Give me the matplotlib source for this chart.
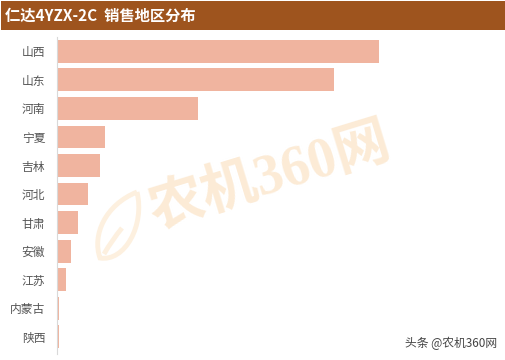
import matplotlib.pyplot as plt
from matplotlib.patches import PathPatch, Rectangle
from matplotlib.path import Path

plt.rcParams["font.family"] = ["Noto Sans CJK SC", "DejaVu Sans"]

# --------------------------------------------------------------
# Data
# --------------------------------------------------------------
provinces = ["山西", "山东", "河南", "宁夏", "吉林", "河北", "甘肃", "安徽", "江苏", "内蒙古", "陕西"]
sales = [322, 277, 141, 48, 43, 31, 21, 14, 9, 2, 2]

W, H = 505, 360
fig = plt.figure(figsize=(W / 100, H / 100), dpi=100, facecolor="white")

# --------------------------------------------------------------
# Header band and watermark
# --------------------------------------------------------------
fig.add_artist(Rectangle((1 / W, 1 - 30 / H), 504 / W, 29 / H, transform=fig.transFigure,
                         facecolor="#9E541E", edgecolor="none"))
fig.text(5 / W, 1 - 15.5 / H, "仁达4YZX-2C  销售地区分布", color="white", fontsize=11,
         fontweight="bold", va="center", ha="left")

bg = fig.add_axes([0, 0, 1, 1])
bg.set_xlim(0, W)
bg.set_ylim(H, 0)
bg.axis("off")
leaf = Path([(137, 192), (105, 205), (92, 235), (100, 258), (125, 262), (145, 225), (137, 192),
             (104, 254), (112, 240), (122, 228)],
            [Path.MOVETO, Path.CURVE4, Path.CURVE4, Path.CURVE4, Path.CURVE4, Path.CURVE4, Path.CURVE4,
             Path.MOVETO, Path.CURVE3, Path.CURVE3])
bg.add_patch(PathPatch(leaf, facecolor="none", edgecolor="#FDF0DF", linewidth=3.5))
bg.text(270, 178, "农机360网", color="#FCEBD6", fontsize=40, fontweight="bold",
        family=["Liberation Serif", "Noto Sans CJK SC"],
        rotation=17, ha="center", va="center", rotation_mode="anchor")

# --------------------------------------------------------------
# Bars
# --------------------------------------------------------------
ax = fig.add_axes([57 / W, 1 - 354 / H, (W - 57) / W, (354 - 37) / H])
ax.patch.set_alpha(0)
ax.barh(provinces, sales, height=0.8, color="#F0B29C", alpha=0.97)
ax.set_xlim(0, W - 57)
ax.set_ylim(10.6, -0.5)
ax.xaxis.set_visible(False)
ax.tick_params(axis="y", length=0, pad=8.5, labelsize=8.5, labelcolor="#555555")
for side in ["top", "right", "bottom"]:
    ax.spines[side].set_visible(False)
ax.spines["left"].set_color("#D9D9D9")

fig.text(497 / W, 1 - 343 / H, "头条 @农机360网", color="#444444", fontsize=8.5, ha="right", va="center")

fig.savefig("out.png", dpi=100, facecolor="white")
